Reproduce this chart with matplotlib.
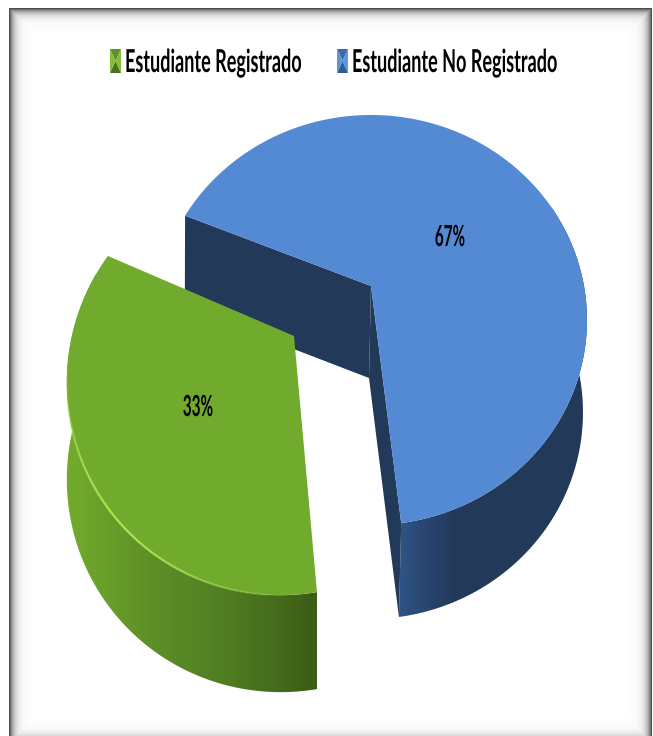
import numpy as np
import matplotlib
matplotlib.use('Agg')
import matplotlib.pyplot as plt
from matplotlib.patches import Polygon
from matplotlib.collections import LineCollection
from matplotlib.colors import LinearSegmentedColormap
from matplotlib.transforms import Affine2D
import matplotlib.patheffects as pe

categories = ['Estudiante Registrado', 'Estudiante No Registrado']
shares = [33, 67]
blue_start = 158
green_start = -85

GREEN = '#71AB2D'
BLUE = '#548AD3'
NAVY = '#22395A'


class Stretch(pe.AbstractPathEffect):
    # the source image was squeezed sideways, text is much taller than wide
    def __init__(self, sy):
        super().__init__()
        self.sy = sy

    def draw_path(self, renderer, gc, tpath, affine, rgbFace=None):
        renderer.draw_path(gc, tpath, Affine2D().scale(1, self.sy) + affine, rgbFace)


def rim(t, apex, a, b, k, m=0.0):
    t = np.radians(t)
    w = 1 + k * np.sin(t) + m * np.cos(t)
    return np.column_stack([apex[0] + a * np.cos(t) / w, apex[1] - b * np.sin(t) / w])


def gradient_side(ax, poly, colors, x0, x1, zorder):
    patch = Polygon(poly, closed=True, fc='none', ec='none')
    ax.add_patch(patch)
    cmap = LinearSegmentedColormap.from_list('side', colors)
    ramp = np.clip((np.arange(653) + 0.5 - x0) / (x1 - x0), 0, 1).reshape(1, -1)
    im = ax.imshow(ramp, cmap=cmap, vmin=0, vmax=1, aspect='auto',
                   extent=(0, 653, 736, 0), zorder=zorder)
    im.set_clip_path(patch)


fig = plt.figure(figsize=(6.53, 7.36), dpi=100)
ax = fig.add_axes([0, 0, 1, 1])
ax.axis('off')

# frame with inner shadow
xx, yy = np.meshgrid(np.arange(653) + 0.5, np.arange(736) + 0.5)
d = np.minimum.reduce([xx - 9, yy - 8, 652 - xx, 743 - yy])
shade = np.where(d < 0, 1.0, 1 - 0.78 * np.exp(-d / 4.5))
ax.imshow(shade, cmap='gray', vmin=0, vmax=1, extent=(0, 653, 736, 0), aspect='auto', zorder=0)

blue_end = blue_start - shares[1] / sum(shares) * 360
green_end = green_start - shares[0] / sum(shares) * 360

# blue slice
blue = dict(apex=(371, 286), a=213, b=199.4, k=0.166)
blue_low = dict(apex=(369, 378), a=211, b=201, k=0.166)
t_blue = np.linspace(blue_start, blue_end, 300)
t_side = np.linspace(blue_end, 25, 200)
side = np.vstack([rim(t_side, **blue), rim(t_side, **blue_low)[::-1]])
gradient_side(ax, side, ['#2F5485', '#28456F', NAVY], 400, 455, 2)
s0, s1 = rim(np.array([blue_start]), **blue)[0], rim(np.array([blue_start]), **blue_low)[0]
e0, e1 = rim(np.array([blue_end]), **blue)[0], rim(np.array([blue_end]), **blue_low)[0]
ax.add_patch(Polygon([s0, blue['apex'], blue_low['apex'], s1], fc=NAVY, ec='none', zorder=2))
ax.add_patch(Polygon([blue['apex'], e0, e1, blue_low['apex']], fc=NAVY, ec='none', zorder=2))
ax.add_patch(Polygon(np.vstack([[blue['apex']], rim(t_blue, **blue)]), fc=BLUE, ec='none', zorder=3))

# green slice, pulled out
green = dict(apex=(294, 336), a=211, b=205.7, k=0.205, m=0.05)
green_low = dict(apex=(294, 433), a=211, b=205.7, k=0.205, m=0.05)
t_green = np.linspace(green_start, green_end, 200)
t_side = np.linspace(green_start, -198, 200)
side = np.vstack([rim(t_side, **green), rim(t_side, **green_low)[::-1]])
gradient_side(ax, side, ['#72AC2C', '#5E9028', '#4F7B21', '#3C5C17'], 66, 316, 4)
ax.add_patch(Polygon(np.vstack([[green['apex']], rim(t_green, **green)]), fc=GREEN, ec='none', zorder=5))

# light rim on the green front edge
t_hi = np.linspace(green_start, -178, 120)
pts = rim(t_hi, **green)
segs = np.stack([pts[:-1], pts[1:]], axis=1)
fade = np.sin(np.linspace(0.05, np.pi - 0.05, len(segs))) ** 2
rgba = [(0.68, 0.90, 0.32, f) for f in fade]
ax.add_collection(LineCollection(segs, colors=rgba, linewidths=1.6, zorder=6))

ax.set_xlim(0, 653)
ax.set_ylim(736, 0)

font = ['Lato', 'DejaVu Sans']
ax.text(198, 416, f'{shares[0]}%', family=font, weight='bold', fontsize=11, ha='center', va='baseline',
        color='black', zorder=7, path_effects=[Stretch(1.9)])
ax.text(450, 246, f'{shares[1]}%', family=font, weight='bold', fontsize=11, ha='center', va='baseline',
        color='black', zorder=7, path_effects=[Stretch(1.9)])

# legend
legend_x = [110, 337]
legend_top = ['#5E8F28', '#3A6EA8']
legend_bottom = ['#4A7020', '#2F5D94']
legend_sides = ['#86BB3A', '#5F96D8']
for name, x, top, bottom, sides in zip(categories, legend_x, legend_top, legend_bottom, legend_sides):
    c = (x + 5.5, 61)
    tl, tr, br, bl = (x, 49), (x + 11, 49), (x + 11, 73), (x, 73)
    ax.add_patch(Polygon([tl, tr, c], fc=top, ec='none', zorder=7))
    ax.add_patch(Polygon([bl, br, c], fc=bottom, ec='none', zorder=7))
    ax.add_patch(Polygon([tl, bl, c], fc=sides, ec='none', zorder=7))
    ax.add_patch(Polygon([tr, br, c], fc=sides, ec='none', zorder=7))
    ax.text(x + 15, 72, name, family=font, weight='bold', fontsize=13, ha='left', va='baseline',
            color='black', zorder=7, path_effects=[Stretch(1.75)])

plt.savefig('out.png', dpi=100)
